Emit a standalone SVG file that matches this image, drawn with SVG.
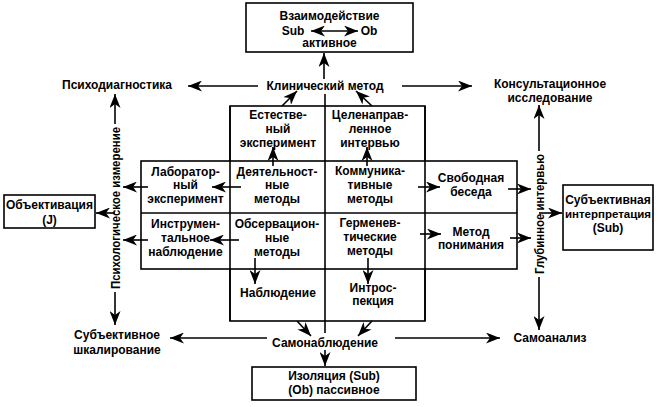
<svg xmlns="http://www.w3.org/2000/svg" width="663" height="407" viewBox="0 0 663 407">
<style>
.t{font-family:"Liberation Sans",Arial,sans-serif;font-size:12px;font-weight:bold;fill:#000;text-anchor:middle}
.v{font-size:12.5px}
.box{fill:#fff;stroke:#000;stroke-width:1.6}
.ln{stroke:#000;stroke-width:1.6;fill:none}
.ar{stroke:#000;stroke-width:1.6;fill:none;marker-end:url(#ah)}
</style>
<defs>
<marker id="ah" markerUnits="userSpaceOnUse" markerWidth="15" markerHeight="11" refX="14" refY="5.5" orient="auto">
<path d="M0,0 L14,5.5 L0,11 L4,5.5 z" fill="#000"/>
</marker>
<marker id="ahs" markerUnits="userSpaceOnUse" markerWidth="15" markerHeight="11" refX="0" refY="5.5" orient="auto">
<path d="M14,0 L0,5.5 L14,11 L10,5.5 z" fill="#000"/>
</marker>
</defs>
<rect width="663" height="407" fill="#fff"/>

<g id="grid">
<rect class="box" x="230" y="106" width="195" height="215"/>
<rect class="box" x="141" y="161" width="376" height="108"/>
<line class="ln" x1="141" y1="213" x2="517" y2="213"/>
<line class="ln" x1="230" y1="106" x2="230" y2="321"/>
<line class="ln" x1="425" y1="106" x2="425" y2="321"/>
</g>

<g id="connectors">
<line class="ar" x1="324" y1="79" x2="324" y2="53"/>
<line class="ar" x1="258" y1="86" x2="188" y2="86"/>
<line class="ar" x1="402" y1="86" x2="472" y2="86"/>
<line class="ar" x1="282" y1="106" x2="297" y2="91"/>
<line class="ar" x1="372" y1="106" x2="356" y2="91"/>
<line class="ln" x1="325" y1="94" x2="325" y2="333"/>
<line class="ar" x1="273" y1="166" x2="273" y2="147"/>
<line class="ar" x1="367" y1="166" x2="367" y2="147"/>
<line class="ar" x1="241" y1="187" x2="212" y2="187"/>
<line class="ar" x1="148" y1="187" x2="123" y2="187"/>
<line class="ar" x1="418" y1="187" x2="440" y2="187"/>
<line class="ar" x1="508" y1="189" x2="531" y2="189"/>
<line class="ar" x1="239" y1="240" x2="210" y2="240"/>
<line class="ar" x1="148" y1="240" x2="123" y2="240"/>
<line class="ar" x1="420" y1="234" x2="441" y2="234"/>
<line class="ar" x1="510" y1="238" x2="531" y2="238"/>
<line class="ar" x1="255" y1="258" x2="255" y2="284"/>
<line class="ar" x1="368" y1="258" x2="368" y2="284"/>
<line class="ar" x1="297" y1="321" x2="311" y2="336"/>
<line class="ar" x1="372" y1="321" x2="358" y2="336"/>
<line class="ar" x1="267" y1="338" x2="170" y2="338"/>
<line class="ar" x1="395" y1="338" x2="500" y2="338"/>
<line class="ar" x1="325" y1="350" x2="325" y2="366"/>
<line class="ar" x1="115" y1="124" x2="115" y2="94"/>
<line class="ar" x1="115" y1="292" x2="115" y2="325"/>
<line class="ar" x1="115" y1="213" x2="96" y2="213"/>
<line class="ar" x1="539" y1="151" x2="539" y2="105"/>
<line class="ar" x1="539" y1="277" x2="539" y2="330"/>
<line class="ar" x1="539" y1="213" x2="562" y2="213"/>
</g>

<g id="vzaimodeistvie">
<rect class="box" x="246" y="3" width="167" height="49"/>
<text class="t" x="329.5" y="20">Взаимодействие</text>
<text class="t" x="293" y="35">Sub</text>
<line class="ln" x1="311" y1="31" x2="358" y2="31" marker-start="url(#ahs)" marker-end="url(#ah)"/>
<text class="t" x="369" y="35">Ob</text>
<text class="t" x="329.5" y="47">активное</text>
</g>
<g id="klinicheskii"><text class="t" x="325" y="90">Клинический метод</text></g>
<g id="psikhodiagnostika"><text class="t" x="117" y="89">Психодиагностика</text></g>
<g id="konsultatsionnoe"><text class="t" x="550" y="88">Консультационное</text><text class="t" x="550" y="102">исследование</text></g>
<g id="obektivatsiya">
<rect class="box" x="4" y="195" width="91" height="33"/>
<text class="t" x="49.5" y="209">Объективация</text>
<text class="t" x="49.5" y="224">(J)</text>
</g>
<g id="subektivnaya">
<rect class="box" x="563" y="185" width="90" height="65"/>
<text class="t" x="608" y="204">Субъективная</text>
<text class="t" x="608" y="218" style="font-size:11.5px">интерпретация</text>
<text class="t" x="608" y="232">(Sub)</text>
</g>
<g id="psikhologicheskoe"><text class="t v" x="115" y="212.5" textLength="162" lengthAdjust="spacingAndGlyphs" transform="rotate(-90 115 208)">Психологическое измерение</text></g>
<g id="glubinnoe"><text class="t v" x="539" y="218.5" textLength="120" lengthAdjust="spacingAndGlyphs" transform="rotate(-90 539 214)">Глубинное интервью</text></g>
<g id="subektivnoe"><text class="t" x="117" y="339">Субъективное</text><text class="t" x="117" y="354">шкалирование</text></g>
<g id="samonablyudenie"><text class="t" x="325" y="347">Самонаблюдение</text></g>
<g id="samoanaliz"><text class="t" x="550" y="342">Самоанализ</text></g>
<g id="izolyatsiya">
<rect class="box" x="252" y="367" width="164" height="33"/>
<text class="t" x="334" y="380">Изоляция (Sub)</text>
<text class="t" x="334" y="394">(Ob) пассивное</text>
</g>

<g id="estestvennyi"><text class="t" x="278" y="119">Естестве-</text><text class="t" x="278" y="133">ный</text><text class="t" x="278" y="147">эксперимент</text></g>
<g id="tselenapravlennoe"><text class="t" x="370" y="119">Целенаправ-</text><text class="t" x="370" y="133">ленное</text><text class="t" x="370" y="147">интервью</text></g>
<g id="laboratornyi"><text class="t" x="185.5" y="176">Лаборатор-</text><text class="t" x="185.5" y="189">ный</text><text class="t" x="185.5" y="203">эксперимент</text></g>
<g id="deyatelnostnye"><text class="t" x="277" y="176">Деятельност-</text><text class="t" x="277" y="189">ные</text><text class="t" x="277" y="203">методы</text></g>
<g id="kommunikativnye"><text class="t" x="370" y="175">Коммуника-</text><text class="t" x="370" y="189">тивные</text><text class="t" x="370" y="203">методы</text></g>
<g id="svobodnaya"><text class="t" x="471" y="182">Свободная</text><text class="t" x="471" y="196">беседа</text></g>
<g id="instrumentalnoe"><text class="t" x="185.5" y="228">Инструмен-</text><text class="t" x="185.5" y="242">тальное</text><text class="t" x="185.5" y="256">наблюдение</text></g>
<g id="observatsionnye"><text class="t" x="277" y="228">Обсервацион-</text><text class="t" x="277" y="242">ные</text><text class="t" x="277" y="256">методы</text></g>
<g id="germenevticheskie"><text class="t" x="370" y="227">Герменев-</text><text class="t" x="370" y="241">тические</text><text class="t" x="370" y="255">методы</text></g>
<g id="metod-ponimaniya"><text class="t" x="471" y="236">Метод</text><text class="t" x="471" y="249">понимания</text></g>
<g id="nablyudenie"><text class="t" x="278" y="297">Наблюдение</text></g>
<g id="introspektsiya"><text class="t" x="373" y="292">Интрос-</text><text class="t" x="373" y="305">пекция</text></g>
</svg>
